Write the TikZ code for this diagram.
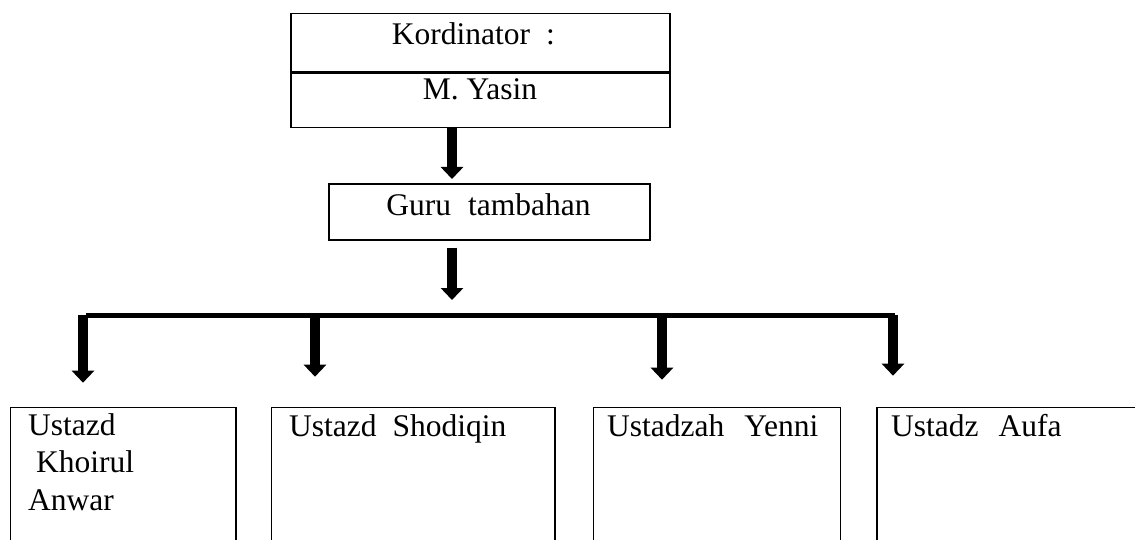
\documentclass[tikz,border=0pt]{standalone}
\usepackage{fontspec}
\setmainfont{Liberation Serif}
\usetikzlibrary{arrows.meta,calc}
\begin{document}
\begin{tikzpicture}[x=1pt,y=-1pt,
  box/.style={draw, line width=1.6pt, inner sep=0pt, anchor=north west},
  txt/.style={inner sep=0pt, font=\fontsize{31.5}{37.5}\selectfont},
  bigarrow/.style={line width=10.5pt, -{Triangle[width=22pt,length=12pt]}},
  barline/.style={line width=5pt}]
\useasboundingbox (0,0) rectangle (1135,540);
\clip (0,0) rectangle (1135,540);
% top box
\node[box, minimum width=379pt, minimum height=58pt] (kord) at (290,12.7) {};
\node[box, minimum width=379pt, minimum height=54.3pt] (yasin) at (kord.south west) {};
\node[txt, anchor=base west] (kordt) at (391.7,45) {Kordinator\hspace{16pt}:};
\node[txt, anchor=base] (yasint) at (480,100) {M. Yasin};
% guru box
\node[box, minimum width=321pt, minimum height=56pt] (guru) at (328,183) {};
\node[txt, anchor=base] (gurut) at (488.5,215) {Guru\hspace{17pt}tambahan};
% helpers
\coordinate (ax) at (452,0);
\coordinate (barL) at (86,315);
\coordinate (barR) at (895,315);
\draw[bigarrow] (ax |- yasin.south) -- ($(ax |- guru.north)+(0,-4)$);
\draw[bigarrow] ($(ax |- guru.south)+(0,7)$) -- ($(ax |- barL)+(0,-15)$);
\draw[barline] (barL) -- (barR);
% lower boxes
\node[box, minimum width=225.5pt, minimum height=160pt] (u1) at (9.5,406.7) {};
\node[box, minimum width=283.3pt, minimum height=160pt] (u2) at (270.7,406.7) {};
\node[box, minimum width=246.8pt, minimum height=160pt] (u3) at (592.7,406.7) {};
\node[box, minimum width=300pt, minimum height=160pt] (u4) at (876,406.7) {};
% arrows from bar
\coordinate (pA) at (83,315);
\coordinate (pB) at (315,315);
\coordinate (pC) at (662,315);
\coordinate (pD) at (893,315);
\draw[bigarrow] (pA) -- ($(pA |- u1.north)+(0,-24)$);
\draw[bigarrow] (pB) -- ($(pB |- u2.north)+(0,-30)$);
\draw[bigarrow] (pC) -- ($(pC |- u3.north)+(0,-27)$);
\draw[bigarrow] (pD) -- ($(pD |- u4.north)+(0,-31)$);
% texts
\node[txt, anchor=base west] (u1a) at (28,435) {Ustazd};
\node[txt, anchor=base west] (u1b) at (36,472.5) {Khoirul};
\node[txt, anchor=base west] (u1c) at (28,510) {Anwar};
\node[txt, anchor=base west] (u2t) at (289,436.7) {Ustazd\hspace{16pt}Shodiqin};
\node[txt, anchor=base west] (u3t) at (607,436.7) {Ustadzah\hspace{20pt}Yenni};
\node[txt, anchor=base west] (u4t) at (891,436.7) {Ustadz\hspace{20pt}Aufa};
\end{tikzpicture}
\end{document}
